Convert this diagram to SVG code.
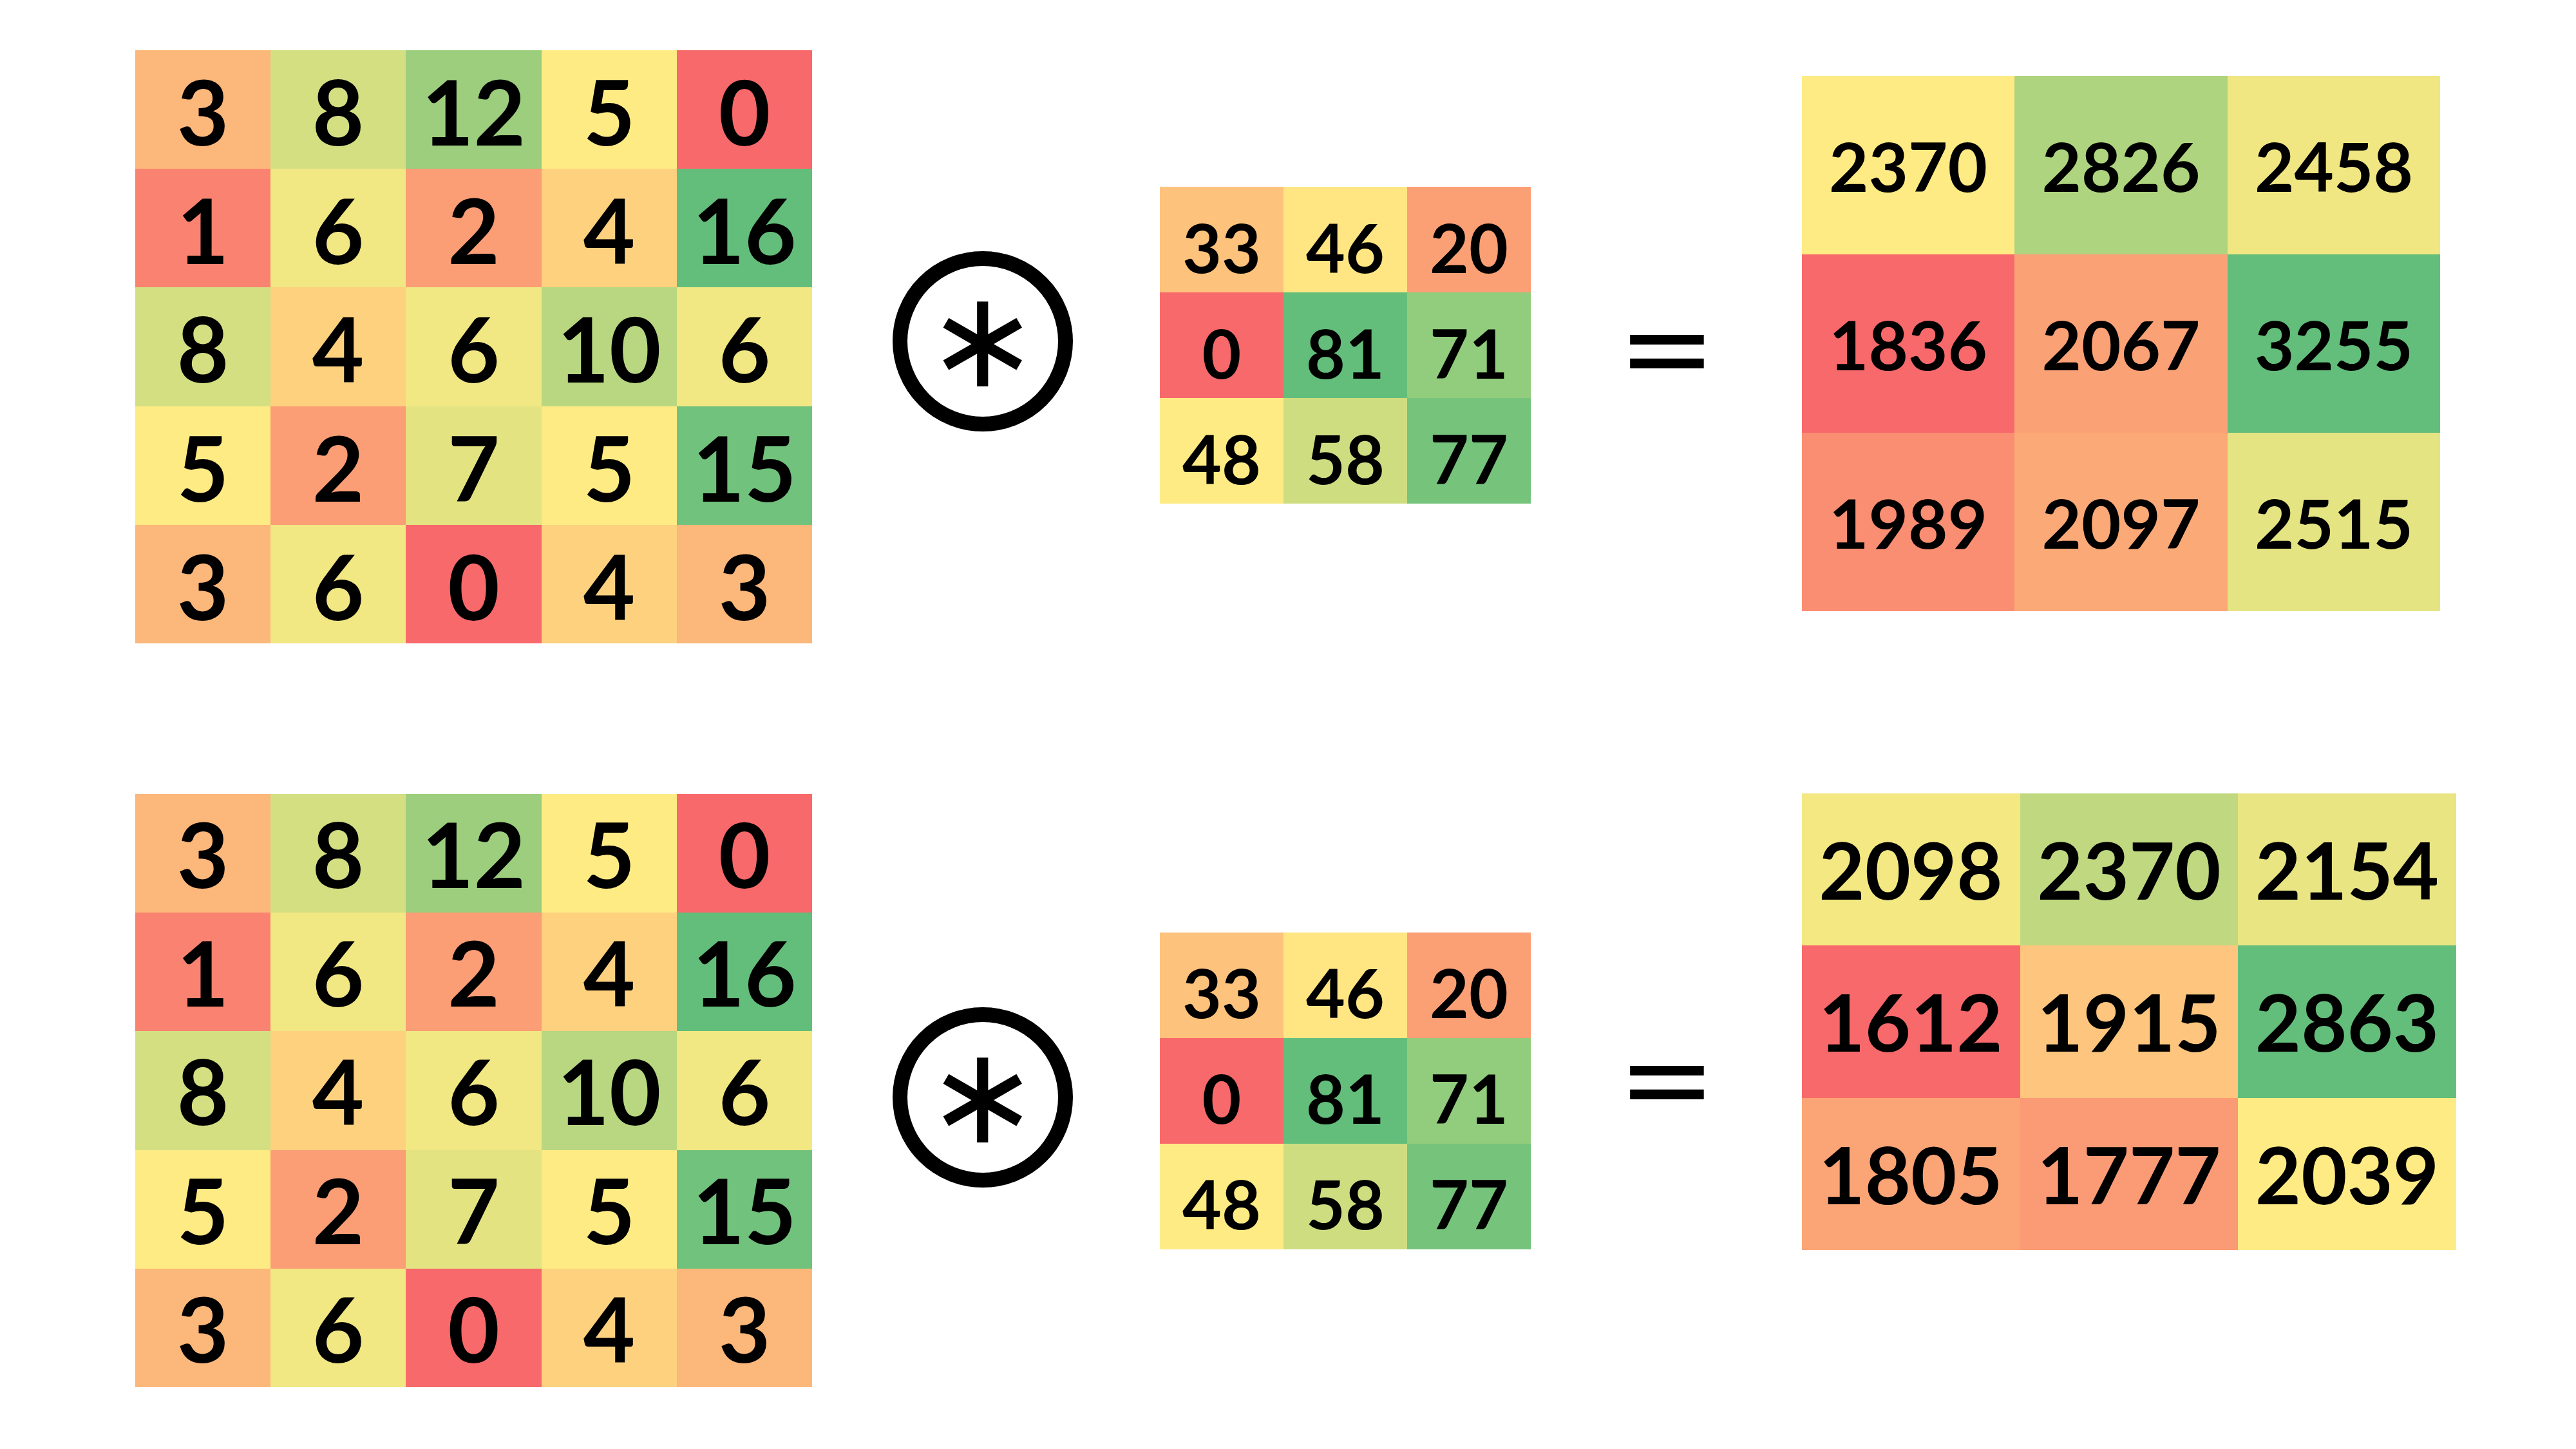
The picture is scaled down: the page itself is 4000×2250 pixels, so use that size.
<svg xmlns="http://www.w3.org/2000/svg" width="4000" height="2250" viewBox="0 0 4000 2250">
<style>
text{font-family:Lato,"Liberation Sans",sans-serif;font-weight:700;fill:#000;text-anchor:middle}
.g5{font-size:139px}
.k3{font-size:105px}
.r1{font-size:106px}
.r2{font-size:123px}
.op{fill:none;stroke:#000;stroke-width:23}
.ast{font-family:"DejaVu Sans",sans-serif;font-weight:400;font-size:210px}
.eq{font-family:"DejaVu Sans",sans-serif;font-weight:400;font-size:183px}
</style>
<rect width="4000" height="2250" fill="#fff"/>

<g id="input-top">
<rect x="210" y="78" width="210" height="184" fill="#FCB77A"/><rect x="420" y="78" width="210" height="184" fill="#D4DF82"/><rect x="630" y="78" width="211" height="184" fill="#9CCE7E"/><rect x="841" y="78" width="210" height="184" fill="#FFEB84"/><rect x="1051" y="78" width="210" height="184" fill="#F8696B"/>
<rect x="210" y="262" width="210" height="184" fill="#F98370"/><rect x="420" y="262" width="210" height="184" fill="#F1E783"/><rect x="630" y="262" width="211" height="184" fill="#FB9D75"/><rect x="841" y="262" width="210" height="184" fill="#FED17F"/><rect x="1051" y="262" width="210" height="184" fill="#63BE7B"/>
<rect x="210" y="446" width="210" height="185" fill="#D4DF82"/><rect x="420" y="446" width="210" height="185" fill="#FED17F"/><rect x="630" y="446" width="211" height="185" fill="#F1E783"/><rect x="841" y="446" width="210" height="185" fill="#B8D780"/><rect x="1051" y="446" width="210" height="185" fill="#F1E783"/>
<rect x="210" y="631" width="210" height="184" fill="#FFEB84"/><rect x="420" y="631" width="210" height="184" fill="#FB9D75"/><rect x="630" y="631" width="211" height="184" fill="#E3E382"/><rect x="841" y="631" width="210" height="184" fill="#FFEB84"/><rect x="1051" y="631" width="210" height="184" fill="#71C27C"/>
<rect x="210" y="815" width="210" height="184" fill="#FCB77A"/><rect x="420" y="815" width="210" height="184" fill="#F1E783"/><rect x="630" y="815" width="211" height="184" fill="#F8696B"/><rect x="841" y="815" width="210" height="184" fill="#FED17F"/><rect x="1051" y="815" width="210" height="184" fill="#FCB77A"/>
<g class="g5">
<text x="315" y="226">3</text><text x="525" y="226">8</text><text x="735.5" y="226">12</text><text x="946" y="226">5</text><text x="1156" y="226">0</text>
<text x="315" y="410">1</text><text x="525" y="410">6</text><text x="735.5" y="410">2</text><text x="946" y="410">4</text><text x="1156" y="410">16</text>
<text x="315" y="594">8</text><text x="525" y="594">4</text><text x="735.5" y="594">6</text><text x="946" y="594">10</text><text x="1156" y="594">6</text>
<text x="315" y="779">5</text><text x="525" y="779">2</text><text x="735.5" y="779">7</text><text x="946" y="779">5</text><text x="1156" y="779">15</text>
<text x="315" y="963">3</text><text x="525" y="963">6</text><text x="735.5" y="963">0</text><text x="946" y="963">4</text><text x="1156" y="963">3</text>
</g>
</g>

<g id="op-conv-top">
<circle class="op" cx="1526" cy="530" r="128.5"/>
<text class="ast" x="1526" y="600">∗</text>
</g>

<g id="kernel-top">
<rect x="1801" y="290" width="192" height="164" fill="#FDC27C"/><rect x="1993" y="290" width="192" height="164" fill="#FFE683"/><rect x="2185" y="290" width="192" height="164" fill="#FB9F75"/>
<rect x="1801" y="454" width="192" height="164" fill="#F8696B"/><rect x="1993" y="454" width="192" height="164" fill="#63BE7B"/><rect x="2185" y="454" width="192" height="164" fill="#92CC7D"/>
<rect x="1801" y="618" width="192" height="164" fill="#FFEB84"/><rect x="1993" y="618" width="192" height="164" fill="#CFDD81"/><rect x="2185" y="618" width="192" height="164" fill="#76C37C"/>
<g class="k3">
<text x="1897" y="424">33</text><text x="2089" y="424">46</text><text x="2281" y="424">20</text>
<text x="1897" y="588">0</text><text x="2089" y="588">81</text><text x="2281" y="588">71</text>
<text x="1897" y="752">48</text><text x="2089" y="752">58</text><text x="2281" y="752">77</text>
</g>
</g>

<g id="op-eq-top">
<text class="eq" x="2588.5" y="604">=</text>
</g>

<g id="result-top">
<rect x="2798" y="118" width="330" height="277" fill="#FFEB84"/><rect x="3128" y="118" width="331" height="277" fill="#AFD47F"/><rect x="3459" y="118" width="330" height="277" fill="#F0E783"/>
<rect x="2798" y="395" width="330" height="277" fill="#F8696B"/><rect x="3128" y="395" width="331" height="277" fill="#FBA176"/><rect x="3459" y="395" width="330" height="277" fill="#63BE7B"/>
<rect x="2798" y="672" width="330" height="277" fill="#FA8E72"/><rect x="3128" y="672" width="331" height="277" fill="#FBA977"/><rect x="3459" y="672" width="330" height="277" fill="#E5E483"/>
<g class="r1">
<text x="2963" y="298">2370</text><text x="3293.5" y="298">2826</text><text x="3624" y="298">2458</text>
<text x="2963" y="575">1836</text><text x="3293.5" y="575">2067</text><text x="3624" y="575">3255</text>
<text x="2963" y="852">1989</text><text x="3293.5" y="852">2097</text><text x="3624" y="852">2515</text>
</g>
</g>

<g id="input-bottom">
<rect x="210" y="1233" width="210" height="184" fill="#FCB77A"/><rect x="420" y="1233" width="210" height="184" fill="#D4DF82"/><rect x="630" y="1233" width="211" height="184" fill="#9CCE7E"/><rect x="841" y="1233" width="210" height="184" fill="#FFEB84"/><rect x="1051" y="1233" width="210" height="184" fill="#F8696B"/>
<rect x="210" y="1417" width="210" height="184" fill="#F98370"/><rect x="420" y="1417" width="210" height="184" fill="#F1E783"/><rect x="630" y="1417" width="211" height="184" fill="#FB9D75"/><rect x="841" y="1417" width="210" height="184" fill="#FED17F"/><rect x="1051" y="1417" width="210" height="184" fill="#63BE7B"/>
<rect x="210" y="1601" width="210" height="185" fill="#D4DF82"/><rect x="420" y="1601" width="210" height="185" fill="#FED17F"/><rect x="630" y="1601" width="211" height="185" fill="#F1E783"/><rect x="841" y="1601" width="210" height="185" fill="#B8D780"/><rect x="1051" y="1601" width="210" height="185" fill="#F1E783"/>
<rect x="210" y="1786" width="210" height="184" fill="#FFEB84"/><rect x="420" y="1786" width="210" height="184" fill="#FB9D75"/><rect x="630" y="1786" width="211" height="184" fill="#E3E382"/><rect x="841" y="1786" width="210" height="184" fill="#FFEB84"/><rect x="1051" y="1786" width="210" height="184" fill="#71C27C"/>
<rect x="210" y="1970" width="210" height="184" fill="#FCB77A"/><rect x="420" y="1970" width="210" height="184" fill="#F1E783"/><rect x="630" y="1970" width="211" height="184" fill="#F8696B"/><rect x="841" y="1970" width="210" height="184" fill="#FED17F"/><rect x="1051" y="1970" width="210" height="184" fill="#FCB77A"/>
<g class="g5">
<text x="315" y="1379">3</text><text x="525" y="1379">8</text><text x="735.5" y="1379">12</text><text x="946" y="1379">5</text><text x="1156" y="1379">0</text>
<text x="315" y="1563">1</text><text x="525" y="1563">6</text><text x="735.5" y="1563">2</text><text x="946" y="1563">4</text><text x="1156" y="1563">16</text>
<text x="315" y="1747">8</text><text x="525" y="1747">4</text><text x="735.5" y="1747">6</text><text x="946" y="1747">10</text><text x="1156" y="1747">6</text>
<text x="315" y="1932">5</text><text x="525" y="1932">2</text><text x="735.5" y="1932">7</text><text x="946" y="1932">5</text><text x="1156" y="1932">15</text>
<text x="315" y="2116">3</text><text x="525" y="2116">6</text><text x="735.5" y="2116">0</text><text x="946" y="2116">4</text><text x="1156" y="2116">3</text>
</g>
</g>

<g id="op-conv-bottom">
<circle class="op" cx="1526" cy="1704" r="128.5"/>
<text class="ast" x="1526" y="1774">∗</text>
</g>

<g id="kernel-bottom">
<rect x="1801" y="1448" width="192" height="164" fill="#FDC27C"/><rect x="1993" y="1448" width="192" height="164" fill="#FFE683"/><rect x="2185" y="1448" width="192" height="164" fill="#FB9F75"/>
<rect x="1801" y="1612" width="192" height="164" fill="#F8696B"/><rect x="1993" y="1612" width="192" height="164" fill="#63BE7B"/><rect x="2185" y="1612" width="192" height="164" fill="#92CC7D"/>
<rect x="1801" y="1776" width="192" height="164" fill="#FFEB84"/><rect x="1993" y="1776" width="192" height="164" fill="#CFDD81"/><rect x="2185" y="1776" width="192" height="164" fill="#76C37C"/>
<g class="k3">
<text x="1897" y="1581">33</text><text x="2089" y="1581">46</text><text x="2281" y="1581">20</text>
<text x="1897" y="1745">0</text><text x="2089" y="1745">81</text><text x="2281" y="1745">71</text>
<text x="1897" y="1909">48</text><text x="2089" y="1909">58</text><text x="2281" y="1909">77</text>
</g>
</g>

<g id="op-eq-bottom">
<text class="eq" x="2588.5" y="1739">=</text>
</g>

<g id="result-bottom">
<rect x="2798" y="1232" width="339" height="236" fill="#F4E883"/><rect x="3137" y="1232" width="338" height="236" fill="#C0D980"/><rect x="3475" y="1232" width="339" height="236" fill="#E9E583"/>
<rect x="2798" y="1468" width="339" height="237" fill="#F8696B"/><rect x="3137" y="1468" width="338" height="237" fill="#FDC57D"/><rect x="3475" y="1468" width="339" height="237" fill="#63BE7B"/>
<rect x="2798" y="1705" width="339" height="236" fill="#FBA476"/><rect x="3137" y="1705" width="338" height="236" fill="#FB9B75"/><rect x="3475" y="1705" width="339" height="236" fill="#FFEB84"/>
<g class="r2">
<text x="2967" y="1397">2098</text><text x="3306" y="1397">2370</text><text x="3644.5" y="1397">2154</text>
<text x="2967" y="1633">1612</text><text x="3306" y="1633">1915</text><text x="3644.5" y="1633">2863</text>
<text x="2967" y="1870">1805</text><text x="3306" y="1870">1777</text><text x="3644.5" y="1870">2039</text>
</g>
</g>

<g id="connectors"></g>
</svg>
